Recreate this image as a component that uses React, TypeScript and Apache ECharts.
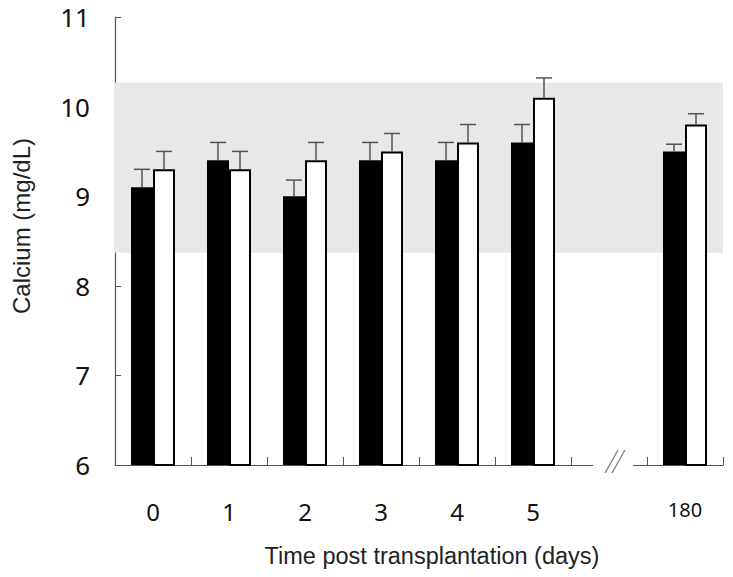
import React, { useEffect, useRef } from "react";
import * as echarts from "echarts";

const categories = ["0", "1", "2", "3", "4", "5", "", "180"];
const groupA = [9.1, 9.4, 9.0, 9.4, 9.4, 9.6, null, 9.5];
const groupAErr = [0.2, 0.2, 0.18, 0.2, 0.2, 0.2, null, 0.08];
const groupB = [9.3, 9.3, 9.4, 9.5, 9.6, 10.1, null, 9.8];
const groupBErr = [0.2, 0.2, 0.2, 0.2, 0.2, 0.22, null, 0.12];
const normalRange = [8.37, 10.27];
const yTicks = { min: 6, max: 11, interval: 1 };
const breakIndex = 6;
const smallLabel = "180";

const BAR_W = 22;

export default function App() {
  const ref = useRef<HTMLDivElement>(null);
  useEffect(() => {
    if (!ref.current) return;
    const chart = echarts.init(ref.current, null, { renderer: "svg" });
    const errData: any[] = [];
    categories.forEach((_, i) => {
      if (groupA[i] != null) errData.push([i, groupA[i], groupAErr[i], -1]);
      if (groupB[i] != null) errData.push([i, groupB[i], groupBErr[i], 1]);
    });
    const digitFont = "Noto Sans";
    const catData = categories.map((c) =>
      c === smallLabel
        ? { value: c, textStyle: { fontSize: 20, padding: [0, 0, 16, 0] } }
        : c
    );
    chart.setOption({
      animation: false,
      backgroundColor: "#fff",
      grid: { left: 115, right: 10, top: 17, bottom: 112, containLabel: false },
      xAxis: {
        type: "category",
        data: catData,
        axisLine: { lineStyle: { color: "#555", width: 1.2 } },
        axisTick: { show: true, interval: 0, inside: true, length: 8, lineStyle: { color: "#555" } },
        axisLabel: {
          interval: 0,
          margin: 34,
          color: "#111",
          fontFamily: digitFont,
          fontSize: 24,
        },
      },
      yAxis: {
        type: "value",
        min: yTicks.min,
        max: yTicks.max,
        interval: yTicks.interval,
        splitLine: { show: false },
        axisLine: { show: true, lineStyle: { color: "#555", width: 1.2 } },
        axisTick: { show: true, inside: true, length: 6, lineStyle: { color: "#555" } },
        axisLabel: { margin: 25, color: "#111", fontFamily: digitFont, fontSize: 26 },
      },
      series: [
        {
          type: "line",
          data: [],
          z: 0,
          silent: true,
          markArea: {
            silent: true,
            itemStyle: { color: "#e8e8e8" },
            data: [[{ yAxis: normalRange[0] }, { yAxis: normalRange[1] }]],
          },
        },
        {
          type: "bar",
          data: groupA.map((v) => (v == null ? "-" : v)),
          barWidth: BAR_W,
          barGap: "0%",
          itemStyle: { color: "#000" },
          z: 3,
        },
        {
          type: "bar",
          data: groupB.map((v) => (v == null ? "-" : v)),
          barWidth: BAR_W,
          barGap: "0%",
          itemStyle: { color: "#fff", borderColor: "#000", borderWidth: 2 },
          z: 3,
        },
        {
          type: "custom",
          z: 4,
          encode: { x: 0, y: 1 },
          data: errData,
          renderItem: (params: any, api: any) => {
            const idx = api.value(0);
            const v = api.value(1);
            const e = api.value(2);
            const side = api.value(3);
            const p0 = api.coord([idx, v]);
            const p1 = api.coord([idx, v + e]);
            const x = p0[0] + (side * BAR_W) / 2;
            const style = { stroke: "#555", lineWidth: 1.5 };
            return {
              type: "group",
              children: [
                { type: "line", shape: { x1: x, y1: p0[1], x2: x, y2: p1[1] }, style },
                { type: "line", shape: { x1: x - 8, y1: p1[1], x2: x + 8, y2: p1[1] }, style },
              ],
            };
          },
        },
      ],
    });
    const cx = chart.convertToPixel({ xAxisIndex: 0 }, breakIndex) as number;
    const ay = chart.convertToPixel({ yAxisIndex: 0 }, yTicks.min) as number;
    const bx = cx + 4;
    chart.setOption({
      graphic: [
        { type: "rect", shape: { x: bx - 20, y: ay - 3, width: 40, height: 6 }, style: { fill: "#fff" }, z: 100 },
        { type: "line", shape: { x1: bx - 8, y1: ay + 8, x2: bx + 5, y2: ay - 15 }, style: { stroke: "#777", lineWidth: 1.2 }, z: 101 },
        { type: "line", shape: { x1: bx - 1, y1: ay + 8, x2: bx + 12, y2: ay - 15 }, style: { stroke: "#777", lineWidth: 1.2 }, z: 101 },
        {
          type: "text",
          x: 21,
          y: 226,
          rotation: Math.PI / 2,
          style: { text: "Calcium (mg/dL)", fill: "#222", font: "24px 'Liberation Sans', Arial, sans-serif", align: "center", verticalAlign: "middle" },
          z: 100,
        },
        {
          type: "text",
          x: 432,
          y: 556,
          style: { text: "Time post transplantation (days)", fill: "#222", font: "23.5px 'Liberation Sans', Arial, sans-serif", align: "center", verticalAlign: "middle" },
          z: 100,
        },
      ],
    });
    return () => chart.dispose();
  }, []);
  return <div ref={ref} style={{ width: 733, height: 577, position: "absolute", left: 0, top: 0 }} />;
}
